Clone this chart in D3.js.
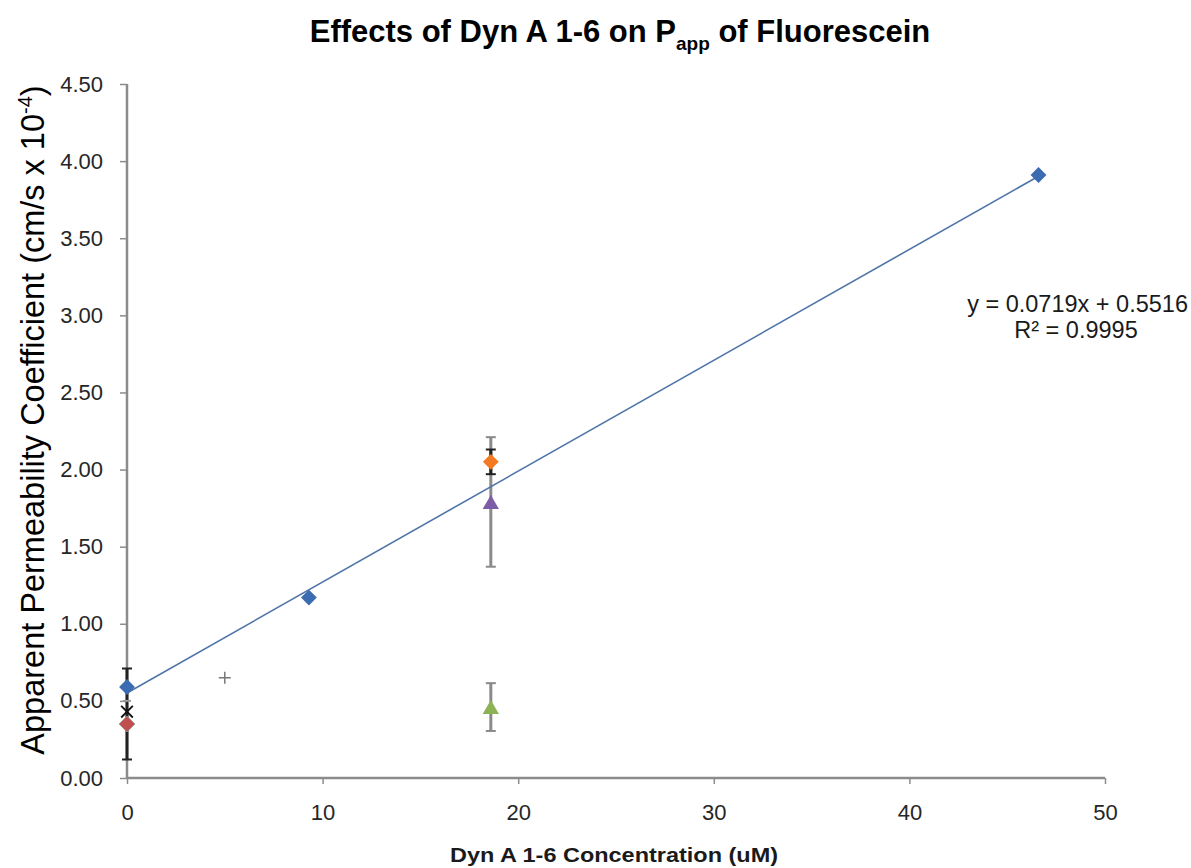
<!DOCTYPE html>
<html>
<head>
<meta charset="utf-8">
<script src="https://cdn.jsdelivr.net/npm/d3@7"></script>
<style>
  html, body { margin: 0; padding: 0; background: #fff; }
  svg { display: block; font-family: "Liberation Sans", Arial, sans-serif; }
</style>
</head>
<body>
<svg id="chart" width="1191" height="868"></svg>
<script>
// ---- data ----
const xTicks = [0, 10, 20, 30, 40, 50];
const yTicks = [0, 0.5, 1.0, 1.5, 2.0, 2.5, 3.0, 3.5, 4.0, 4.5];

// fitted series (blue diamonds)
const blueX = [0, 9.3, 46.6];
const blueY = [0.59, 1.17, 3.91];

// other treatments
const redPoint = { x: 0, y: 0.35 };
const crossPoint = { x: 0, y: 0.43 };
const plusPoint = { x: 5, y: 0.65 };
const orangePoint = { x: 18.6, y: 2.05, err: 0.08 };
const purplePoint = { x: 18.6, y: 1.79, err: 0.42 };
const greenPoint = { x: 18.6, y: 0.46, err: 0.155 };

// error bars at x = 0 (low, high)
const zeroErrBlack = [0.12, 0.71];
const zeroErrGrayCap = 0.50;

// trendline
const slope = 0.0719, intercept = 0.5516;
const trendX = [0, 46.6];
const eqText = "y = 0.0719x + 0.5516";
const r2Text = "R² = 0.9995";

// ---- layout ----
const svg = d3.select("#chart");
const x = d3.scaleLinear().domain([0, 50]).range([127, 1105]);
const y = d3.scaleLinear().domain([0, 4.5]).range([778, 84]);

const axisColor = "#8c8c8c";
const textColor = "#262626";
const FONT = "Liberation Sans, Arial, sans-serif";

// title
const title = svg.append("text")
  .attr("x", 620).attr("y", 42)
  .attr("text-anchor", "middle")
  .attr("font-size", 31).attr("font-weight", "bold").attr("fill", "#000");
title.append("tspan").text("Effects of Dyn A 1-6 on P");
title.append("tspan").attr("font-size", 19).attr("dy", 8).text("app");
title.append("tspan").attr("dy", -8).text(" of Fluorescein");

// axes
const xAxis = d3.axisBottom(x).tickValues(xTicks).tickFormat(d3.format("d")).tickSize(6).tickPadding(20);
const gx = svg.append("g").attr("transform", `translate(0,${y(0)})`).call(xAxis);
gx.select(".domain").attr("stroke", axisColor).attr("stroke-width", 2.5).attr("d", `M${x(0)},0H${x(50)}`);
gx.selectAll(".tick line").attr("stroke", axisColor).attr("stroke-width", 1.5);
gx.selectAll(".tick text").attr("font-size", 22).attr("fill", textColor).attr("font-family", FONT);

const yAxis = d3.axisLeft(y).tickValues(yTicks).tickFormat(d3.format(".2f")).tickSize(7).tickPadding(17);
const gy = svg.append("g").attr("transform", `translate(${x(0)},0)`).call(yAxis);
gy.select(".domain").attr("stroke", axisColor).attr("stroke-width", 2.5).attr("d", `M0,${y(4.5)}V${y(0)}`);
gy.selectAll(".tick line").attr("stroke", axisColor).attr("stroke-width", 1.5);
gy.selectAll(".tick text").attr("font-size", 22).attr("fill", textColor).attr("font-family", FONT);

// axis titles
const yl = svg.append("text")
  .attr("transform", `translate(44,420) rotate(-90)`)
  .attr("text-anchor", "middle")
  .attr("font-size", 32.5).attr("fill", "#000");
yl.append("tspan").text("Apparent Permeability Coefficient (cm/s x 10");
yl.append("tspan").attr("font-size", 20).attr("dy", -12).text("-4");
yl.append("tspan").attr("dy", 12).text(")");

svg.append("text")
  .attr("x", (x(0) + x(50)) / 2 - 2).attr("y", 862)
  .attr("text-anchor", "middle")
  .attr("font-size", 21).attr("font-weight", "bold").attr("fill", "#1a1a1a")
  .attr("textLength", 328).attr("lengthAdjust", "spacingAndGlyphs")
  .text("Dyn A 1-6 Concentration (uM)");

// error bars helper
function errBar(lo, hi, xv, color, w, capW) {
  const g = svg.append("g").attr("stroke", color).attr("stroke-width", w);
  g.append("line").attr("x1", x(xv)).attr("x2", x(xv)).attr("y1", y(lo)).attr("y2", y(hi));
  [lo, hi].forEach(v => g.append("line")
    .attr("x1", x(xv) - capW).attr("x2", x(xv) + capW)
    .attr("y1", y(v)).attr("y2", y(v)).attr("stroke-width", 2));
}

// x=0 error bars
errBar(zeroErrBlack[0], zeroErrBlack[1], 0, "#222", 3, 5);
svg.append("line").attr("x1", x(0) - 4).attr("x2", x(0) + 4)
  .attr("y1", y(zeroErrGrayCap)).attr("y2", y(zeroErrGrayCap))
  .attr("stroke", "#999").attr("stroke-width", 2);

// x=18.6 error bars
errBar(purplePoint.y - purplePoint.err, purplePoint.y + purplePoint.err, purplePoint.x, "#8a8a8a", 3, 5);
errBar(orangePoint.y - orangePoint.err, orangePoint.y + orangePoint.err, orangePoint.x, "#222", 3, 5);
errBar(greenPoint.y - greenPoint.err, greenPoint.y + greenPoint.err, greenPoint.x, "#8a8a8a", 3, 5);

// trendline
svg.append("line")
  .attr("x1", x(trendX[0])).attr("y1", y(slope * trendX[0] + intercept))
  .attr("x2", x(trendX[1])).attr("y2", y(slope * trendX[1] + intercept))
  .attr("stroke", "#4f74a8").attr("stroke-width", 1.6);

// markers
const diamond = d3.symbol().type(d3.symbolSquare).size(125);
const triSize = 115;
const tri = d3.symbol().type(d3.symbolTriangle).size(triSize);
// centre triangle on its bounding box (as spreadsheet markers are)
const triH = Math.sqrt(triSize * 4 / Math.sqrt(3)) * Math.sqrt(3) / 2;
const triOff = triH / 6;

svg.append("g").selectAll("path").data(blueX.map((v, i) => [v, blueY[i]])).join("path")
  .attr("d", diamond)
  .attr("transform", d => `translate(${x(d[0])},${y(d[1])}) rotate(45)`)
  .attr("fill", "#3b6bb0");

svg.append("path").attr("d", diamond)
  .attr("transform", `translate(${x(redPoint.x)},${y(redPoint.y)}) rotate(45)`)
  .attr("fill", "#c0504d").attr("stroke", "#999").attr("stroke-width", 0.8);

svg.append("path").attr("d", d3.symbol().type(d3.symbolX).size(90))
  .attr("transform", `translate(${x(crossPoint.x)},${y(crossPoint.y)})`)
  .attr("fill", "none").attr("stroke", "#111").attr("stroke-width", 1.8);

const pg = svg.append("g").attr("stroke", "#777").attr("stroke-width", 1.5);
pg.append("line").attr("x1", x(plusPoint.x) - 6).attr("x2", x(plusPoint.x) + 6)
  .attr("y1", y(plusPoint.y)).attr("y2", y(plusPoint.y));
pg.append("line").attr("x1", x(plusPoint.x)).attr("x2", x(plusPoint.x))
  .attr("y1", y(plusPoint.y) - 6).attr("y2", y(plusPoint.y) + 6);

svg.append("path").attr("d", diamond)
  .attr("transform", `translate(${x(orangePoint.x)},${y(orangePoint.y)}) rotate(45)`)
  .attr("fill", "#f47920");

svg.append("path").attr("d", tri)
  .attr("transform", `translate(${x(purplePoint.x)},${y(purplePoint.y) + triOff})`)
  .attr("fill", "#7b5ea7");

svg.append("path").attr("d", tri)
  .attr("transform", `translate(${x(greenPoint.x)},${y(greenPoint.y) + triOff})`)
  .attr("fill", "#8db255");

// equation
svg.append("text").attr("x", 1188).attr("y", 312).attr("text-anchor", "end")
  .attr("font-size", 23.5).attr("fill", "#1a1a1a").text(eqText);
svg.append("text").attr("x", 1076).attr("y", 338).attr("text-anchor", "middle")
  .attr("font-size", 23.5).attr("fill", "#1a1a1a").text(r2Text);
</script>
</body>
</html>
